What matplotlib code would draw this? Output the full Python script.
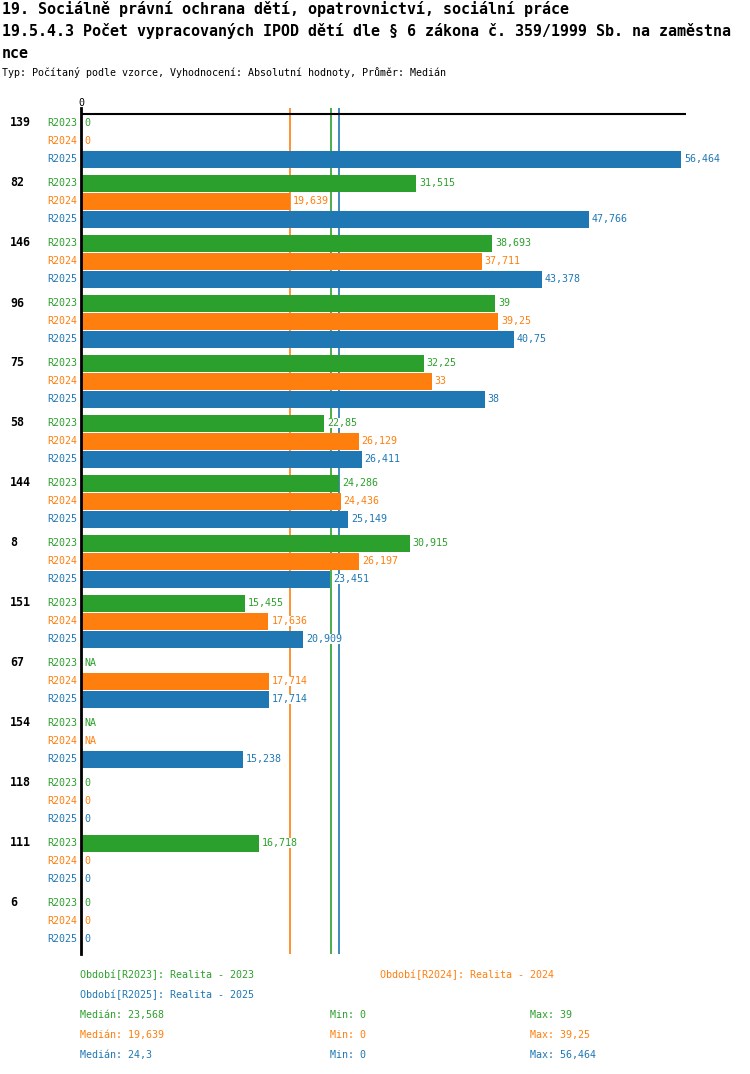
import matplotlib
matplotlib.use("Agg")
import matplotlib.pyplot as plt
import numpy as np

# data
groups = ["139", "82", "146", "96", "75", "58", "144", "8", "151", "67", "154", "118", "111", "6"]
series = ["R2023", "R2024", "R2025"]
r2023 = [0, 31.515, 38.693, 39, 32.25, 22.85, 24.286, 30.915, 15.455, np.nan, np.nan, 0, 16.718, 0]
r2024 = [0, 19.639, 37.711, 39.25, 33, 26.129, 24.436, 26.197, 17.636, 17.714, np.nan, 0, 0, 0]
r2025 = [56.464, 47.766, 43.378, 40.75, 38, 26.411, 25.149, 23.451, 20.909, 17.714, 15.238, 0, 0, 0]
colors = ["#2ca02c", "#ff7f0e", "#1f77b4"]
legend_names = ["Období[R2023]: Realita - 2023", "Období[R2024]: Realita - 2024", "Období[R2025]: Realita - 2025"]

values = [r2023, r2024, r2025]


def fmt(v):
    if np.isnan(v):
        return "NA"
    return f"{v:g}".replace(".", ",")


W, H = 750, 1074
fig = plt.figure(figsize=(W / 100, H / 100), dpi=100)
mono = "DejaVu Sans Mono"

# titles
fig.text(2 / W, 1 - 9 / H, "19. Sociálně právní ochrana dětí, opatrovnictví, sociální práce",
         family=mono, weight="bold", fontsize=10.8, va="center")
fig.text(2 / W, 1 - 31 / H, "19.5.4.3 Počet vypracovaných IPOD dětí dle § 6 zákona č. 359/1999 Sb. na zaměstna",
         family=mono, weight="bold", fontsize=10.8, va="center")
fig.text(2 / W, 1 - 53 / H, "nce", family=mono, weight="bold", fontsize=10.8, va="center")
fig.text(2 / W, 1 - 73 / H, "Typ: Počítaný podle vzorce, Vyhodnocení: Absolutní hodnoty, Průměr: Medián",
         family=mono, fontsize=7.2, va="center")

# axes in pixel layout: x=0 at px 81, 56.464 at px 681
scale = 600 / 56.464
ax_l, ax_r, ax_t, ax_b = 81, 686, 108, 954
ax = fig.add_axes([ax_l / W, 1 - ax_b / H, (ax_r - ax_l) / W, (ax_b - ax_t) / H])
ax.set_xlim(0, (ax_r - ax_l) / scale)
ax.set_ylim(ax_b - ax_t, 0)
for s in ["top", "right", "bottom"]:
    ax.spines[s].set_visible(False)
ax.spines["left"].set_linewidth(2)
ax.spines["left"].set_zorder(6)
ax.set_xticks([])
ax.set_yticks([])
ax.axhline(6, color="black", lw=1.5, zorder=3)
ax.text(0, -5, "0", family=mono, fontsize=7.2, ha="center", va="center", clip_on=False)

# median lines
medians = [np.nanmedian(v) for v in values]
for m, c in zip(medians, colors):
    ax.axvline(m, color=c, lw=1.2, zorder=1)

off = 3 / scale
for g, name in enumerate(groups):
    y0 = 15 + g * 60
    fig.text(10 / W, 1 - (ax_t + y0) / H, name, family=mono, weight="bold", fontsize=8.4, va="center")
    for k in range(3):
        y = y0 + k * 18
        v = values[k][g]
        ax.text(-4 / scale, y, series[k], color=colors[k], family=mono, fontsize=7.2,
                ha="right", va="center", clip_on=False)
        vv = 0 if np.isnan(v) else v
        if vv > 0:
            ax.barh(y, vv, height=17, color=colors[k], zorder=2)
        ax.text(vv + off, y, fmt(v), color=colors[k], family=mono, fontsize=7.2, ha="left", va="center",
                zorder=4, bbox=dict(facecolor="white", edgecolor="none", pad=0.3))

# legend / stats
fig.text(80 / W, 1 - 975 / H, legend_names[0], color=colors[0], family=mono, fontsize=7.2, va="center")
fig.text(380 / W, 1 - 975 / H, legend_names[1], color=colors[1], family=mono, fontsize=7.2, va="center")
fig.text(80 / W, 1 - 995 / H, legend_names[2], color=colors[2], family=mono, fontsize=7.2, va="center")
for k in range(3):
    y = 1 - (1015 + 20 * k) / H
    vals = np.array(values[k], dtype=float)
    fig.text(80 / W, y, "Medián: " + fmt(medians[k]), color=colors[k], family=mono, fontsize=7.2, va="center")
    fig.text(330 / W, y, "Min: " + fmt(np.nanmin(vals)), color=colors[k], family=mono, fontsize=7.2, va="center")
    fig.text(530 / W, y, "Max: " + fmt(np.nanmax(vals)), color=colors[k], family=mono, fontsize=7.2, va="center")

fig.savefig("out.png", dpi=100, facecolor="white")
